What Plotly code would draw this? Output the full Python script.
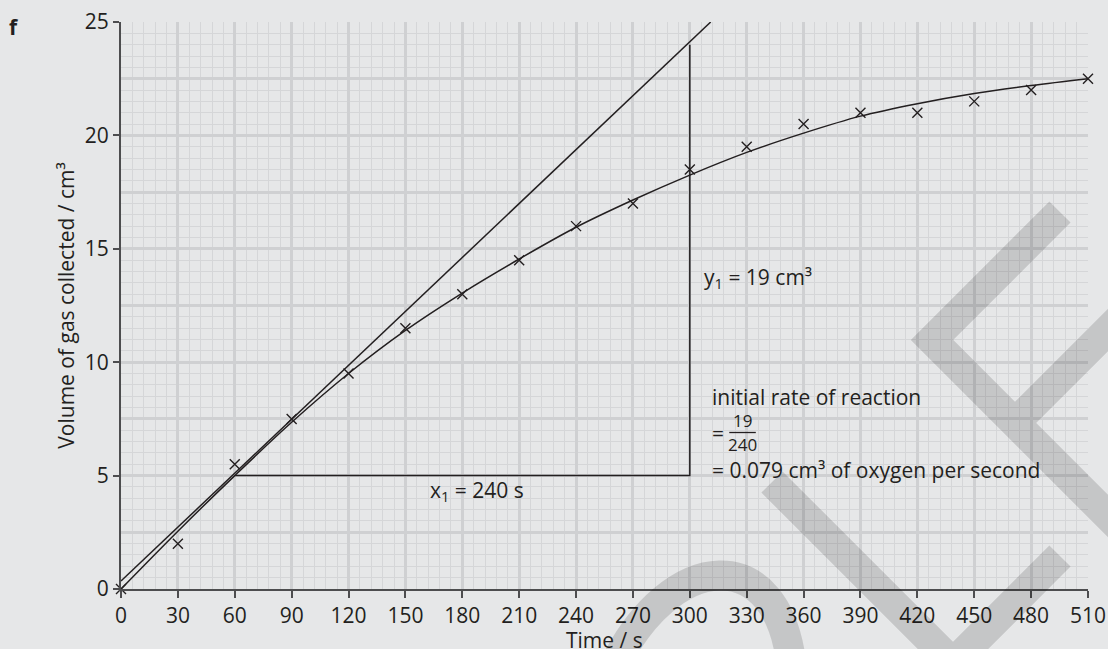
import plotly.graph_objects as go

# ---------------- data ----------------
time_s = [0, 30, 60, 90, 120, 150, 180, 210, 240, 270, 300, 330, 360, 390, 420, 450, 480, 510]
volume_cm3 = [0, 2, 5.5, 7.5, 9.5, 11.5, 13, 14.5, 16, 17, 18.5, 19.5, 20.5, 21, 21, 21.5, 22, 22.5]

curve_t = [0, 30, 60, 90, 120, 150, 180, 210, 240, 270, 300, 330, 360, 390, 420, 450, 480, 510]
curve_v = [0, 2.55, 5.0, 7.35, 9.5, 11.4, 13.05, 14.55, 15.95, 17.15, 18.25, 19.25, 20.1, 20.85, 21.4, 21.85, 22.2, 22.5]

tangent_t = [0, 311]
tangent_v = [0.35, 25]

triangle_t = [60, 300, 300]
triangle_v = [5, 5, 24]

x_ticks = list(range(0, 511, 30))
y_ticks = [0, 5, 10, 15, 20, 25]

# ---------------- style ----------------
INK = "#231f20"
BG = "#e6e7e8"
MINOR = "#d5d6d8"
MAJOR = "#cfd0d2"
AXIS = "#4d4d4f"
FONT = "Open Sans"

L, R, T, B = 121, 20, 22, 60
WIDTH, HEIGHT = 1108, 649
PW, PH = WIDTH - L - R, HEIGHT - T - B


def px2paper(xp, yp):
    return (xp - L) / PW, (T + PH - yp) / PH


def pp(xp, yp):
    a, b = px2paper(xp, yp)
    return f"{a:.4f},{b:.4f}"


fig = go.Figure()

fig.add_trace(go.Scatter(x=curve_t, y=curve_v, mode="lines", line=dict(color=INK, width=1.5, shape="spline"),
                         hoverinfo="skip", showlegend=False))
fig.add_trace(go.Scatter(x=tangent_t, y=tangent_v, mode="lines", line=dict(color=INK, width=1.5),
                         hoverinfo="skip", showlegend=False))
fig.add_trace(go.Scatter(x=triangle_t, y=triangle_v, mode="lines", line=dict(color=INK, width=1.5),
                         hoverinfo="skip", showlegend=False))
fig.add_trace(go.Scatter(x=time_s, y=volume_cm3, mode="markers", cliponaxis=False,
                         marker=dict(symbol="x-thin-open", size=10, color=INK, line=dict(color=INK, width=1.4)),
                         showlegend=False))
# helper trace so that the overlaying axis (2.5 grid) is drawn
fig.add_trace(go.Scatter(x=[None], y=[None], yaxis="y2", showlegend=False, hoverinfo="skip"))

fig.update_layout(
    width=WIDTH, height=HEIGHT,
    margin=dict(l=L, r=R, t=T, b=B, pad=0),
    paper_bgcolor=BG, plot_bgcolor=BG,
    font=dict(family=FONT, size=21, color=INK),
    xaxis=dict(
        range=[0, 510], tickvals=x_ticks, ticktext=[str(v) for v in x_ticks],
        showgrid=True, gridcolor=MAJOR, gridwidth=2.6,
        minor=dict(dtick=6, tick0=0, showgrid=True, gridcolor=MINOR, gridwidth=1.2),
        showline=True, linecolor=AXIS, linewidth=2,
        ticks="outside", ticklen=7, tickwidth=1.5, tickcolor=AXIS,
        zeroline=False, tickfont=dict(size=21, color=INK, family=FONT),
        automargin=False,
    ),
    yaxis=dict(
        range=[0, 25], tickvals=y_ticks, ticktext=[str(v) for v in y_ticks],
        showgrid=True, gridcolor=MAJOR, gridwidth=2.6,
        minor=dict(dtick=0.5, tick0=0, showgrid=True, gridcolor=MINOR, gridwidth=1.2),
        showline=True, linecolor=AXIS, linewidth=2,
        ticks="outside", ticklen=6, tickwidth=1.5, tickcolor=AXIS,
        zeroline=False, tickfont=dict(size=21, color=INK, family=FONT),
        title=dict(text="Volume of gas collected / cm³", font=dict(size=21, color=INK, family=FONT), standoff=4),
        automargin=False,
    ),
    yaxis2=dict(
        range=[0, 25], overlaying="y", side="left", dtick=2.5, tick0=0,
        showgrid=True, gridcolor=MAJOR, gridwidth=2.6, showticklabels=False, ticks="",
        zeroline=False, showline=False,
    ),
)

# x axis title (placed a little lower than plotly's margin-limited default)
fig.add_annotation(x=0.5, y=px2paper(0, 640)[1], xref="paper", yref="paper", text="Time / s",
                   xanchor="center", yanchor="middle", showarrow=False,
                   font=dict(family=FONT, size=21, color=INK))

# annotations
ann = dict(showarrow=False, font=dict(family=FONT, size=21, color=INK))
fig.add_annotation(x=306.5, y=13.7, xref="x", yref="y", text="y<sub>1</sub> = 19 cm³",
                   xanchor="left", yanchor="middle", **ann)
fig.add_annotation(x=310.5, y=8.45, xref="x", yref="y", text="initial rate of reaction",
                   xanchor="left", yanchor="middle", **ann)
fig.add_annotation(x=310.5, y=6.9, xref="x", yref="y", text="=",
                   xanchor="left", yanchor="middle", **ann)
fig.add_annotation(x=327.8, y=7.45, xref="x", yref="y", text="19", xanchor="center", yanchor="middle",
                   showarrow=False, font=dict(family=FONT, size=17, color=INK))
fig.add_annotation(x=327.8, y=6.35, xref="x", yref="y", text="240", xanchor="center", yanchor="middle",
                   showarrow=False, font=dict(family=FONT, size=17, color=INK))
fig.add_shape(type="line", x0=320.8, x1=334.8, y0=6.9, y1=6.9, xref="x", yref="y",
              line=dict(color=INK, width=1.3))
fig.add_annotation(x=310.5, y=5.25, xref="x", yref="y", text="= 0.079 cm³ of oxygen per second",
                   xanchor="left", yanchor="middle", **ann)
fig.add_annotation(x=162, y=4.3, xref="x", yref="y", text="x<sub>1</sub> = 240 s",
                   xanchor="left", yanchor="middle", **ann)
fig.add_annotation(x=px2paper(14, 27)[0], y=px2paper(14, 27)[1], xref="paper", yref="paper", text="<b>f</b>",
                   xanchor="center", yanchor="middle", **ann)

# watermark (decorative translucent strokes)
wm = "rgba(0,0,0,0.14)"
wm_paths = [
    f"M {pp(772, 482)} L {pp(953, 663)} L {pp(1060, 556)}",
    f"M {pp(1060, 212)} L {pp(932, 340)} L {pp(1140, 548)} M {pp(1140, 298)} L {pp(1015, 423)}",
    f"M {pp(612, 670)} C {pp(670, 548)} {pp(780, 540)} {pp(792, 670)}",
]
for p in wm_paths:
    fig.add_shape(type="path", path=p, xref="paper", yref="paper",
                  line=dict(color=wm, width=30), layer="above")

fig.write_html("out.html")
